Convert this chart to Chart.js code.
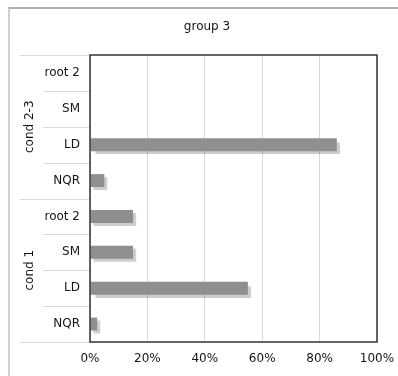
<!DOCTYPE html>
<html lang="en">
<head>
    <meta charset="UTF-8">
    <title>group 3</title>
    <script src="https://cdn.jsdelivr.net/npm/chart.js"></script>
    <style>
        body {
            margin: 0;
            padding: 0;
            background: #fff;
            font-family: "DejaVu Sans", Verdana, sans-serif;
        }

        #frame {
            position: absolute;
            left: 8px;
            top: 7px;
            width: 400px;
            height: 380px;
            border-left: 2px solid #d0d0d0;
            border-top: 2px solid #b0b0b0;
        }

        #chart-container {
            position: absolute;
            left: 0;
            top: 0;
            width: 398px;
            height: 376px;
        }
    </style>
</head>
<body>
    <div id="frame"></div>
    <div id="chart-container">
        <canvas id="group-chart"></canvas>
    </div>

    <script>
        // categories top to bottom, grouped by condition
        const categories = ['root 2', 'SM', 'LD', 'NQR', 'root 2', 'SM', 'LD', 'NQR'];
        const groups = ['cond 2-3', 'cond 1'];
        const groupSizes = [4, 4];
        const values = [0, 0, 86, 5, 15, 15, 55, 2.5];
        const xTicks = [0, 20, 40, 60, 80, 100];

        const textColor = '#151515';
        const lineColor = '#d9d9d9';

        // soft drop shadow behind the bars
        const barShadow = {
            id: 'barShadow',
            beforeDatasetsDraw(chart) {
                const ctx = chart.ctx;
                ctx.save();
                ctx.shadowColor = 'rgba(0, 0, 0, 0.2)';
                ctx.shadowOffsetX = 3;
                ctx.shadowOffsetY = 3;
                ctx.shadowBlur = 1;
            },
            afterDatasetsDraw(chart) {
                chart.ctx.restore();
            }
        };

        // group labels, separator lines in the label column and the plot frame
        const groupLabels = {
            id: 'groupLabels',
            afterDraw(chart) {
                const ctx = chart.ctx;
                const area = chart.chartArea;
                const yScale = chart.scales.y;
                const n = categories.length;

                ctx.save();
                ctx.strokeStyle = lineColor;
                ctx.lineWidth = 1;

                // row separators
                for (let i = 0; i <= n; i++) {
                    const y = Math.round(yScale.getPixelForValue(i - 0.5)) + 0.5;
                    ctx.beginPath();
                    ctx.moveTo(43, y);
                    ctx.lineTo(area.left, y);
                    ctx.stroke();
                }

                // group separators and rotated group names
                let start = 0;
                groups.forEach((name, gi) => {
                    const yTop = yScale.getPixelForValue(start - 0.5);
                    const yBottom = yScale.getPixelForValue(start + groupSizes[gi] - 0.5);
                    [yTop, yBottom].forEach(y => {
                        const yy = Math.round(y) + 0.5;
                        ctx.beginPath();
                        ctx.moveTo(20, yy);
                        ctx.lineTo(area.left, yy);
                        ctx.stroke();
                    });

                    ctx.save();
                    ctx.translate(30, (yTop + yBottom) / 2);
                    ctx.rotate(-Math.PI / 2);
                    ctx.fillStyle = textColor;
                    ctx.font = '12px "DejaVu Sans", Verdana, sans-serif';
                    ctx.textAlign = 'center';
                    ctx.textBaseline = 'middle';
                    ctx.fillText(name, 0, 0);
                    ctx.restore();

                    start += groupSizes[gi];
                });

                // dark frame round the plot
                ctx.strokeStyle = '#333';
                ctx.lineWidth = 1.5;
                ctx.strokeRect(area.left, area.top, area.right - area.left, area.bottom - area.top);
                ctx.restore();
            }
        };

        Chart.defaults.font.family = '"DejaVu Sans", Verdana, sans-serif';
        Chart.defaults.font.size = 12;
        Chart.defaults.color = textColor;

        const ctx = document.getElementById('group-chart').getContext('2d');
        new Chart(ctx, {
            type: 'bar',
            data: {
                labels: categories,
                datasets: [{
                    data: values,
                    backgroundColor: '#8f8f8f',
                    borderWidth: 0,
                    barPercentage: 0.36,
                    categoryPercentage: 1.0
                }]
            },
            options: {
                indexAxis: 'y',
                responsive: true,
                maintainAspectRatio: false,
                animation: false,
                devicePixelRatio: 1,
                layout: {
                    padding: { left: 37, right: 21, top: 10, bottom: 4 }
                },
                plugins: {
                    legend: { display: false },
                    tooltip: { enabled: false },
                    title: {
                        display: true,
                        text: 'group 3',
                        color: textColor,
                        font: { size: 12, weight: 'normal' },
                        padding: { top: 10, bottom: 20.6 }
                    }
                },
                scales: {
                    x: {
                        min: 0,
                        max: 100,
                        afterFit: (scale) => {
                            scale.height = 30;
                            scale.paddingLeft = 0;
                            scale.paddingRight = 0;
                        },
                        afterBuildTicks: (scale) => {
                            scale.ticks = xTicks.map(v => ({ value: v }));
                        },
                        grid: {
                            color: lineColor,
                            drawTicks: false
                        },
                        border: { display: false },
                        ticks: {
                            padding: 10,
                            color: textColor,
                            callback: (v) => v + '%'
                        }
                    },
                    y: {
                        afterFit: (scale) => {
                            scale.width = 53;
                            scale.paddingTop = 0;
                            scale.paddingBottom = 0;
                        },
                        grid: { display: false, drawTicks: false },
                        border: { display: false },
                        ticks: {
                            padding: 10,
                            color: textColor,
                            autoSkip: false
                        }
                    }
                }
            },
            plugins: [barShadow, groupLabels]
        });
    </script>
</body>
</html>
